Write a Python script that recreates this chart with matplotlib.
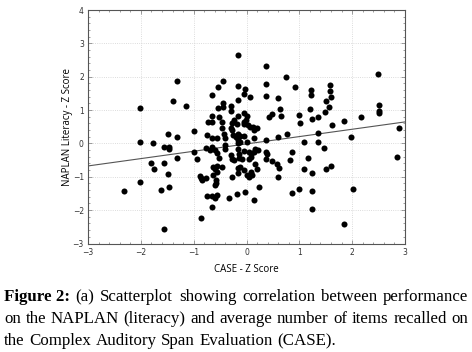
import matplotlib
matplotlib.use("Agg")
import matplotlib.pyplot as plt
from matplotlib.ticker import MultipleLocator

# CASE z score (x) and NAPLAN literacy z score (y)
case_z = [
    -0.16, 0.37, 0.75, 2.48, -0.45, -1.31, -0.16, 0.37, -0.54, 0.92,
    -0.02, 1.58, 1.58, 1.23, -0.65, -0.05, 1.23, 0.06, 0.37, 0.60,
    1.60, -0.16, 1.50, -1.40, -2.01, -1.15,
    -0.53, -0.45, -0.45, -0.30, -0.30, 1.57, 2.51, 2.51, 2.51, 0.64, 1.21,
    0.48, 0.42, 0.66, 0.99, 1.01, 1.24, 1.36, 1.48, 1.84, 2.17, 1.62,
    -0.65, -0.52, -0.66, -0.72, -0.47,
    -0.16, -0.05, 0.00, -0.23, -0.27, -0.05, -0.01, -0.18, -0.04, 0.02,
    0.07, 0.12, 0.19, 2.89,
    -0.99, -0.46, -0.30, -0.27, -0.74, -0.65, -0.55, -0.43, -0.40, -0.25,
    -0.20, -0.12, -0.12, 0.01, 0.14, 0.14,
    -1.48, -1.32, -2.01, -1.77,
    1.36, 1.36, 1.08, 1.98, 0.77, 0.59, 0.36,
    -0.04, -0.16, -0.16, -0.16,
    -1.56, -1.47, -1.47, -1.32, -0.99, -0.94,
    -0.76, -0.70, -0.65, -0.60, -0.55, -0.52, -0.40, -0.40, -0.30, -0.27,
    -0.15, -0.15, -0.05, 0.05, 0.05, 0.14, -0.16, -0.08, -0.24,
    0.17, 0.21, 0.36, 0.38, 0.37, 0.48, 0.08, 0.08,
    0.86, 0.83, 1.16, 1.47, 2.84,
    -1.81, -1.76, -1.56, -1.48,
    -0.64, -0.60, -0.55, -0.64, -0.55, -0.46, -0.16, -0.16, -0.04, 0.00,
    0.05, 0.09, 0.11, -0.13, 0.17, 0.19,
    0.58, 0.61, 0.59, 1.09, 1.24, 1.50, 1.60,
    -0.88, -0.87, -0.85, -0.76, -0.58, -0.28, -0.60, -0.58,
    -2.01, -2.32, -1.62, -1.47, -1.56, -0.87,
    -0.74, -0.65, -0.60, -0.55, -0.66, -0.33, -0.18, -0.03, 0.14, 0.23,
    0.86, 0.99, 1.24, 1.24, 2.01, 1.84,
]
naplan_z = [
    2.66, 2.33, 1.98, 2.09, 1.88, 1.86, 1.71, 1.79, 1.68, 1.68,
    1.63, 1.76, 1.56, 1.59, 1.46, 1.48, 1.44, 1.39, 1.41, 1.35,
    1.38, 1.31, 1.26, 1.26, 1.05, 1.13,
    1.07, 1.10, 1.20, 1.12, 0.96, 1.10, 1.15, 0.98, 0.91, 1.03, 1.03,
    0.88, 0.78, 0.83, 0.86, 0.62, 0.73, 0.80, 0.93, 0.68, 0.80, 0.55,
    0.83, 0.78, 0.65, 0.64, 0.65,
    0.83, 0.91, 0.83, 0.71, 0.62, 0.65, 0.71, 0.58, 0.57, 0.54,
    0.50, 0.50, 0.47, 0.45,
    0.38, 0.46, 0.46, 0.40, 0.26, 0.17, 0.17, 0.28, 0.15, 0.25,
    0.20, 0.22, 0.05, 0.05, 0.40, 0.17,
    0.28, 0.19, 0.05, 0.01,
    0.31, 0.05, 0.04, 0.19, 0.29, 0.19, 0.09,
    0.22, 0.28, 0.10, 0.00,
    -0.11, -0.10, -0.17, -0.44, -0.25, -0.47,
    -0.13, -0.19, -0.12, -0.21, -0.28, -0.43, -0.17, -0.05, -0.35, -0.47,
    -0.32, -0.43, -0.23, -0.25, -0.47, -0.25, -0.18, -0.47, -0.50,
    -0.17, -0.20, -0.25, -0.33, -0.47, -0.53, -0.33, -0.41,
    -0.27, -0.51, -0.45, -0.15, -0.41,
    -0.59, -0.78, -0.59, -0.92,
    -0.71, -0.78, -0.68, -0.95, -0.87, -0.70, -0.75, -0.90, -0.80, -0.95,
    -1.00, -0.85, -0.95, -0.70, -0.62, -0.77,
    -0.62, -0.73, -1.00, -0.77, -0.90, -0.77, -0.68,
    -0.97, -1.05, -1.10, -1.03, -1.10, -1.02, -1.25, -1.19,
    -1.17, -1.42, -1.40, -1.30, -2.57, -2.23,
    -1.57, -1.57, -1.65, -1.55, -1.90, -1.63, -1.53, -1.45, -1.70, -1.30,
    -1.50, -1.37, -1.43, -1.97, -1.37, -2.42,
]

# least squares line as drawn in the figure
fit_x = [-3, 3]
fit_slope = 0.22
fit_intercept = -0.015

x_ticks = [-3, -2, -1, 0, 1, 2, 3]
y_ticks = [-3, -2, -1, 0, 1, 2, 3, 4]

caption_lines = [
    ["Figure 2:", "(a)", "Scatterplot", "showing", "correlation", "between", "performance"],
    ["on", "the", "NAPLAN", "(literacy)", "and", "average", "number", "of", "items", "recalled", "on"],
    ["the", "Complex", "Auditory", "Span", "Evaluation", "(CASE)."],
]

fig = plt.figure(figsize=(4.72, 3.52), dpi=100)
ax = fig.add_axes([88 / 472, 1 - 243.5 / 352, 317 / 472, 233.5 / 352])

ax.scatter(case_z, naplan_z, s=19, c="black", marker="o", linewidths=0, zorder=3)
fit_y = [fit_slope * v + fit_intercept for v in fit_x]
ax.plot(fit_x, fit_y, color="#555555", lw=0.8, zorder=2)

ax.set_xlim(-3, 3)
ax.set_ylim(-3, 4)
ax.set_xticks(x_ticks)
ax.set_yticks(y_ticks)
ax.xaxis.set_minor_locator(MultipleLocator(0.2))
ax.yaxis.set_minor_locator(MultipleLocator(0.2))
ax.tick_params(which="both", direction="in", top=True, right=True,
               color="#777777", width=0.5)
ax.tick_params(which="major", length=3, labelsize=5.5, labelcolor="#333333", pad=3)
ax.tick_params(which="minor", length=1.5)
ax.grid(True, which="major", color="#d0d0d0", ls=":", lw=0.6, zorder=0)
for s in ax.spines.values():
    s.set_color("#555555")
    s.set_linewidth(0.8)

ax.set_xlabel("CASE - Z Score", fontsize=7, family="Open Sans", labelpad=5)
ax.set_ylabel("NAPLAN Literacy - Z Score", fontsize=7, family="Open Sans", labelpad=0)

# caption, first two lines justified between left and right edges
renderer = fig.canvas.get_renderer()
left, right = 4, 468
line_y = [296, 318, 340]
for i, words in enumerate(caption_lines):
    texts = []
    for j, w in enumerate(words):
        bold = (i == 0 and j == 0)
        t = fig.text(0, 0, w, fontsize=12.2, family="Liberation Serif",
                     fontweight="bold" if bold else "normal",
                     ha="left", va="baseline", transform=None)
        texts.append(t)
    widths = [t.get_window_extent(renderer).width for t in texts]
    if i < 2:
        gap = (right - left - sum(widths)) / (len(words) - 1)
    else:
        gap = 4.5
    x = left
    for t, w in zip(texts, widths):
        t.set_position((x, 352 - line_y[i] - 5))
        x += w + gap

fig.savefig("out.png", dpi=100)
